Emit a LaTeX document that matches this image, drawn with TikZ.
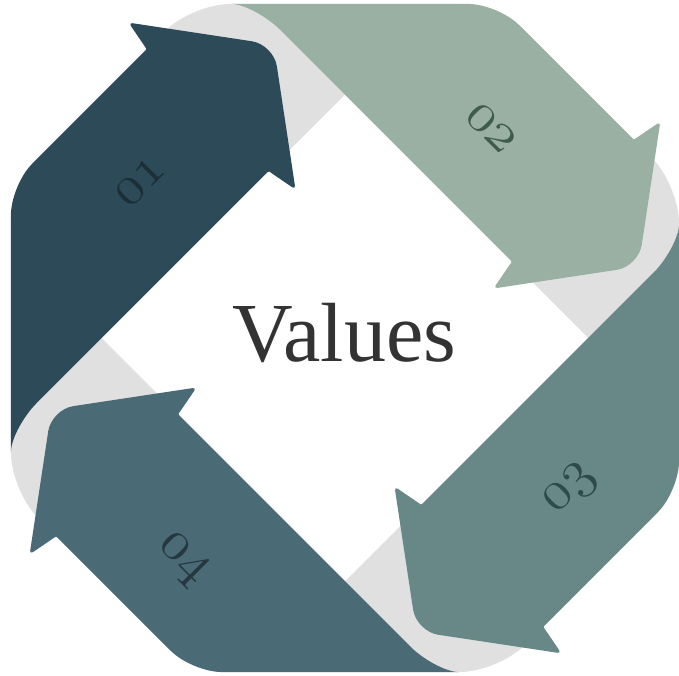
\RequirePackage{fix-cm}
\documentclass[tikz,border=0pt]{standalone}
\usepackage{fontspec}
\newfontfamily\valuefont{Liberation Serif}
\newcommand{\onum}[1]{{\fontencoding{OML}\fontfamily{cmm}\fontseries{m}\fontshape{it}\fontsize{56}{56}\selectfont #1}}
\definecolor{ringgray}{HTML}{E0E0E0}
\definecolor{stepone}{HTML}{2D4A58}
\definecolor{steptwo}{HTML}{99B0A3}
\definecolor{stepthree}{HTML}{688888}
\definecolor{stepfour}{HTML}{4A6A76}
\definecolor{numone}{HTML}{1C2F38}
\definecolor{numtwo}{HTML}{3F5B4C}
\definecolor{numthree}{HTML}{2F4A4B}
\definecolor{numfour}{HTML}{26373F}
\definecolor{valuetext}{HTML}{333333}

\begin{document}
\begin{tikzpicture}
  [x=1pt,y=1pt,every node/.style={inner sep=0pt}]
  \useasboundingbox (-345,-338) rectangle (334,338);

  \fill[ringgray,rounded corners=38] (0,334) -- (153,334) -- (334,153) -- (334,-153)
    -- (153,-334) -- (-153,-334) -- (-334,-153) -- (-334,153) -- (-153,334) -- cycle;
  \fill[white] (0,243) -- (243,0) -- (0,-243) -- (-243,0) -- cycle;

  \foreach \ang/\col in {45/stepone,-45/steptwo,-135/stepthree,135/stepfour}
    \fill[\col,rotate=\ang] (-222.4,250.2) [rounded corners=30] -- (-128,344.4)
      [rounded corners=1] -- (64,344.4) [rounded corners=4] -- (70,376)
      [rounded corners=22] -- (157,258) [rounded corners=4] -- (70,140)
      [rounded corners=1] -- (64,172) [sharp corners] -- (-265,172)
      .. controls (-280,172) and (-306,166) .. (-317,155.6) -- cycle;

  \node[text=numone,rotate=45] (o1) at (-205,156) {\onum{01}};
  \node[text=numtwo,rotate=-45] (o2) at (146,210) {\onum{02}};
  \node[text=numthree,rotate=45] (o3) at (226,-152) {\onum{03}};
  \node[text=numfour,rotate=-45] (o4) at (-163,-222) {\onum{04}};

  \node[text=valuetext,anchor=base,font=\valuefont\fontsize{84}{84}\selectfont] (values) at (-1,-24) {Values};
\end{tikzpicture}
\end{document}
